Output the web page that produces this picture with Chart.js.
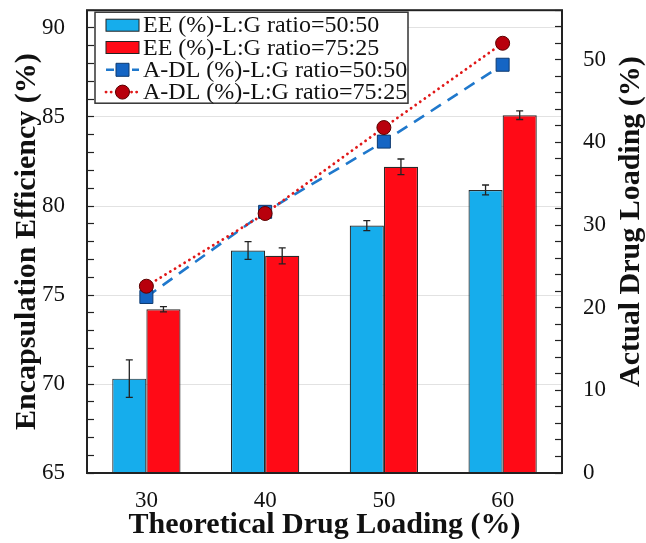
<!DOCTYPE html>
<html>
<head>
<meta charset="utf-8">
<script src="https://cdn.jsdelivr.net/npm/chart.js@4.4.0/dist/chart.umd.min.js"></script>
<style>
  html, body { margin: 0; padding: 0; background: #fff; }
  #wrap { width: 646px; height: 543px; }
</style>
</head>
<body>
<div id="wrap"><canvas id="chart"></canvas></div>
<script>
'use strict';

// data
let loadings = ['30', '40', '50', '60'];
let ee5050 = [70.3, 77.5, 78.9, 80.9];
let ee5050Err = [1.05, 0.5, 0.28, 0.28];
let ee7525 = [74.2, 77.2, 82.2, 85.1];
let ee7525Err = [0.15, 0.45, 0.44, 0.24];
let adl5050 = [21.3, 31.6, 40.1, 49.4];
let adl7525 = [22.6, 31.4, 41.8, 52.0];
let seriesNames = [
  'EE (%)-L:G ratio=50:50',
  'EE (%)-L:G ratio=75:25',
  'A-DL (%)-L:G ratio=50:50',
  'A-DL (%)-L:G ratio=75:25'
];

const serif = '"Liberation Serif", "Times New Roman", serif';
Chart.defaults.font.family = serif;
Chart.defaults.color = '#111';

let canvasElem = document.getElementById('chart');

// error bars on the bar datasets
const errorBars = {
  id: 'errorBars',
  afterDatasetsDraw(chart) {
    const ctx = chart.ctx;
    const y = chart.scales.y;
    chart.data.datasets.forEach((ds, di) => {
      if (!ds.errors) return;
      const meta = chart.getDatasetMeta(di);
      meta.data.forEach((bar, i) => {
        const v = ds.data[i], e = ds.errors[i];
        const top = y.getPixelForValue(v + e);
        const bot = y.getPixelForValue(v - e);
        ctx.save();
        ctx.strokeStyle = '#222';
        ctx.lineWidth = 1.3;
        ctx.beginPath();
        ctx.moveTo(bar.x, top); ctx.lineTo(bar.x, bot);
        ctx.moveTo(bar.x - 3.5, top); ctx.lineTo(bar.x + 3.5, top);
        ctx.moveTo(bar.x - 3.5, bot); ctx.lineTo(bar.x + 3.5, bot);
        ctx.stroke();
        ctx.restore();
      });
    });
  }
};

// frame, right-hand title and boxed legend
const frameAndLegend = {
  id: 'frameAndLegend',
  afterDraw(chart) {
    const ctx = chart.ctx;
    const a = chart.chartArea;
    ctx.save();
    ctx.strokeStyle = '#222';
    ctx.lineWidth = 2;
    ctx.strokeRect(a.left, a.top, a.right - a.left, a.bottom - a.top);

    // right axis title, reading bottom to top
    ctx.translate(631, (a.top + a.bottom) / 2 - 20);
    ctx.rotate(-Math.PI / 2);
    ctx.font = 'bold 30px ' + serif;
    ctx.fillStyle = '#111';
    ctx.textAlign = 'center';
    ctx.textBaseline = 'middle';
    ctx.fillText('Actual Drug Loading (%)', 0, 0);
    ctx.restore();

    // legend box
    const bx = a.left + 8, by = a.top + 2, bw = 313, bh = 91;
    ctx.save();
    ctx.fillStyle = '#fff';
    ctx.fillRect(bx, by, bw, bh);
    ctx.strokeStyle = '#333';
    ctx.lineWidth = 1.5;
    ctx.strokeRect(bx, by, bw, bh);
    ctx.font = '24px ' + serif;
    ctx.textBaseline = 'middle';
    chart.data.datasets.forEach((ds, i) => {
      const cy = by + 13 + i * 22.3;
      const x0 = bx + 11, x1 = bx + 44;
      if (ds.type === 'bar') {
        ctx.fillStyle = ds.backgroundColor;
        ctx.fillRect(x0, cy - 6, x1 - x0, 12);
        ctx.strokeStyle = '#222';
        ctx.lineWidth = 1;
        ctx.strokeRect(x0, cy - 6, x1 - x0, 12);
      } else {
        ctx.strokeStyle = ds.borderColor;
        ctx.lineWidth = ds.borderWidth;
        ctx.lineCap = ds.borderCapStyle || 'butt';
        ctx.setLineDash(ds.legendDash);
        ctx.beginPath();
        ctx.moveTo(x0, cy); ctx.lineTo(x1, cy);
        ctx.stroke();
        ctx.setLineDash([]);
        ctx.fillStyle = ds.pointBackgroundColor;
        ctx.strokeStyle = ds.pointBorderColor;
        ctx.lineWidth = 1;
        const mx = (x0 + x1) / 2;
        ctx.beginPath();
        if (ds.pointStyle === 'rect') ctx.rect(mx - 6.5, cy - 6.5, 13, 13);
        else ctx.arc(mx, cy, 7, 0, Math.PI * 2);
        ctx.fill(); ctx.stroke();
      }
      ctx.fillStyle = '#111';
      ctx.fillText(seriesNames[i], x1 + 4, cy + 1);
    });
    ctx.restore();
  }
};

function renderChart() {
  const data = {
    labels: loadings,
    datasets: [
      {
        type: 'bar',
        label: seriesNames[0],
        data: ee5050,
        errors: ee5050Err,
        yAxisID: 'y',
        backgroundColor: '#16ADEC',
        borderColor: '#2a2a2a',
        borderWidth: 1.2,
        categoryPercentage: 0.575,
        barPercentage: 1.0,
        order: 2
      },
      {
        type: 'bar',
        label: seriesNames[1],
        data: ee7525,
        errors: ee7525Err,
        yAxisID: 'y',
        backgroundColor: '#FF0A16',
        borderColor: '#2a2a2a',
        borderWidth: 1.2,
        categoryPercentage: 0.575,
        barPercentage: 1.0,
        order: 2
      },
      {
        type: 'line',
        label: seriesNames[2],
        data: adl5050,
        yAxisID: 'y2',
        borderColor: '#1F78CC',
        borderWidth: 2.6,
        borderDash: [12, 8],
        legendDash: [8, 5],
        pointStyle: 'rect',
        pointRadius: 9.2,
        pointBackgroundColor: '#1565C4',
        pointBorderColor: '#0d3a70',
        pointBorderWidth: 1,
        tension: 0,
        order: 1
      },
      {
        type: 'line',
        label: seriesNames[3],
        data: adl7525,
        yAxisID: 'y2',
        borderColor: '#E01818',
        borderWidth: 2.8,
        borderCapStyle: 'round',
        borderDash: [0.1, 5.5],
        legendDash: [0.1, 5],
        pointStyle: 'circle',
        pointRadius: 7,
        pointBackgroundColor: '#B8000C',
        pointBorderColor: '#5a0000',
        pointBorderWidth: 1,
        tension: 0,
        order: 0
      }
    ]
  };

  let config = {
    type: 'bar',
    data: data,
    options: {
      responsive: true,
      maintainAspectRatio: false,
      animation: false,
      layout: { padding: { top: 10, left: 0, right: 0, bottom: 0 } },
      plugins: {
        legend: { display: false },
        tooltip: { enabled: false }
      },
      scales: {
        x: {
          offset: true,
          grid: { display: false, drawTicks: false },
          border: { display: false },
          ticks: { font: { size: 23 }, color: '#111', padding: 14 },
          title: {
            display: true,
            text: 'Theoretical Drug Loading (%)',
            font: { size: 30, weight: 'bold' },
            color: '#111',
            padding: { top: 0, bottom: 0 }
          },
          afterFit: (s) => { s.height = 70; s.paddingLeft = 0; s.paddingRight = 0; }
        },
        y: {
          position: 'left',
          min: 65,
          max: 91,
          border: { display: false },
          grid: {
            color: (c) => (c.tick && c.tick.value % 5 === 0 && c.tick.value > 65) ? '#e2e2e2' : 'rgba(0,0,0,0)',
            lineWidth: 1,
            tickColor: '#222',
            tickLength: -7,
            tickWidth: 1.2
          },
          ticks: {
            stepSize: 1,
            autoSkip: false,
            font: { size: 23 },
            color: '#111',
            padding: 29,
            callback: (v) => (v % 5 === 0 && v <= 90) ? v : ''
          },
          title: {
            display: true,
            text: 'Encapsulation Efficiency (%)',
            font: { size: 30, weight: 'bold' },
            color: '#111',
            padding: { top: 9, bottom: 0 }
          },
          afterFit: (s) => { s.width = 87; s.paddingTop = 0; s.paddingBottom = 0; }
        },
        y2: {
          position: 'right',
          min: 0,
          max: 56,
          border: { display: false },
          grid: {
            drawOnChartArea: false,
            tickColor: '#222',
            tickLength: -7,
            tickWidth: 1.2
          },
          ticks: {
            stepSize: 2,
            autoSkip: false,
            font: { size: 23 },
            color: '#111',
            padding: 28,
            callback: (v) => (v % 10 === 0) ? v : ''
          },
          afterFit: (s) => { s.width = 84; s.paddingTop = 0; s.paddingBottom = 0; }
        }
      }
    },
    plugins: [errorBars, frameAndLegend]
  };

  let myChart = new Chart(canvasElem, config);
}

renderChart();
</script>
</body>
</html>
